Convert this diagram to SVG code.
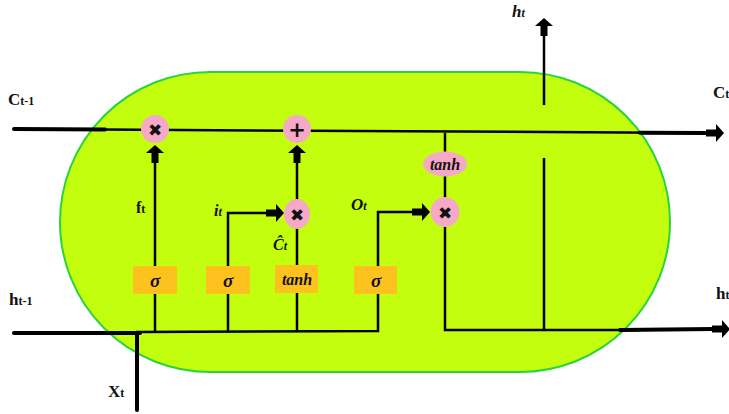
<svg xmlns="http://www.w3.org/2000/svg" width="729" height="414" viewBox="0 0 729 414">
<style>
.ln{stroke:#000;stroke-width:2.5;fill:none}
.thk{stroke:#000;stroke-width:4;fill:none;stroke-linecap:round}
.op{fill:#f6a9c6}
.box{fill:#fdc21e}
.lbl{font-family:"Liberation Serif",serif;font-weight:bold;fill:#111}
.it{font-style:italic}
.sym{font-family:"DejaVu Sans",sans-serif;font-weight:bold;fill:#111;text-anchor:middle}
.gt{font-family:"Liberation Serif",serif;font-weight:bold;font-style:italic;fill:#111;text-anchor:middle}
</style>
<defs>
<path id="arr" d="M0,0 L9,8 L3.5,8 L3.5,18 L-3.5,18 L-3.5,8 L-9,8 Z" fill="#000"/>
</defs>
<rect id="cell" x="60" y="72" width="610" height="300" rx="150" ry="150" fill="#c3fe0e" stroke="#2bd43c" stroke-width="2"/>
<g id="connectors">
<path class="thk" d="M14,129 L105,129.5"/>
<path class="ln" d="M100,129.5 L706,133"/>
<path class="thk" d="M640,132.7 L706,133"/>
<use href="#arr" transform="translate(724,133) rotate(90)"/>
<path class="thk" d="M14,333 L140,333"/>
<path class="ln" d="M136,332 L378,331 L378,294"/>
<path class="thk" d="M137,333 L137,410"/>
<path class="ln" d="M155,331 L155,294"/>
<path class="ln" d="M228,331 L228,294"/>
<path class="ln" d="M297,331 L297,293"/>
<path class="ln" d="M155,266 L155,160"/>
<use href="#arr" transform="translate(155,145)"/>
<path class="ln" d="M228,266 L228,213 L268,213"/>
<use href="#arr" transform="translate(284,213) rotate(90)"/>
<path class="ln" d="M297,265 L297,228"/>
<path class="ln" d="M297,200 L297,160"/>
<use href="#arr" transform="translate(297,145)"/>
<path class="ln" d="M378,266 L378,212 L414,212"/>
<use href="#arr" transform="translate(430,212) rotate(90)"/>
<path class="ln" d="M445,133 L445,152"/>
<path class="ln" d="M445,176 L445,198"/>
<path class="ln" d="M445,227 L445,330 L640,330"/>
<path class="thk" d="M620,330 L714,329"/>
<use href="#arr" transform="translate(730,329) rotate(90)"/>
<path class="ln" d="M544,330 L544,158"/>
<path class="ln" d="M544,105 L544,35"/>
<use href="#arr" transform="translate(544,18)"/>
</g>
<g id="mul-f"><circle class="op" cx="155" cy="129" r="14"/><text class="sym" x="155" y="135.5" font-size="17">✖</text></g>
<g id="add-c"><circle class="op" cx="297" cy="129" r="14"/><text class="sym" x="297" y="136.5" font-size="21">+</text></g>
<g id="mul-i"><ellipse class="op" cx="297" cy="214" rx="13" ry="15"/><text class="sym" x="297" y="220.5" font-size="17">✖</text></g>
<g id="tanh-c"><ellipse class="op" cx="445" cy="164" rx="22" ry="12.5"/><text class="gt" x="445" y="169.5" font-size="16">tanh</text></g>
<g id="mul-o"><ellipse class="op" cx="445" cy="212" rx="14.5" ry="15"/><text class="sym" x="445" y="218.5" font-size="17">✖</text></g>
<g id="sig-f"><rect class="box" x="133" y="266" width="44" height="28"/><text class="gt" x="155" y="287" font-size="19">σ</text></g>
<g id="sig-i"><rect class="box" x="206" y="266" width="44" height="28"/><text class="gt" x="228" y="287" font-size="19">σ</text></g>
<g id="tanh-g"><rect class="box" x="275" y="265" width="43" height="28"/><text class="gt" x="297" y="284.5" font-size="16">tanh</text></g>
<g id="sig-o"><rect class="box" x="354" y="266" width="43" height="28"/><text class="gt" x="376" y="287" font-size="19">σ</text></g>
<g id="labels">
<text class="lbl" x="8" y="105" font-size="17">C<tspan font-size="12">t-1</tspan></text>
<text class="lbl" x="9" y="305" font-size="17">h<tspan font-size="12">t-1</tspan></text>
<text class="lbl" x="108" y="397" font-size="17">X<tspan font-size="12">t</tspan></text>
<text class="lbl" x="136" y="213" font-size="16">f<tspan font-size="12">t</tspan></text>
<text class="lbl it" x="214" y="216" font-size="16">i<tspan font-size="12">t</tspan></text>
<text class="lbl it" x="273" y="250" font-size="16">Ĉ<tspan font-size="12">t</tspan></text>
<text class="lbl it" x="351" y="210" font-size="17">O<tspan font-size="12">t</tspan></text>
<text class="lbl it" x="512" y="17" font-size="17">h<tspan font-size="12">t</tspan></text>
<text class="lbl" x="713" y="98" font-size="17">C<tspan font-size="12">t</tspan></text>
<text class="lbl" x="716" y="299" font-size="17">h<tspan font-size="12">t</tspan></text>
</g>
</svg>
